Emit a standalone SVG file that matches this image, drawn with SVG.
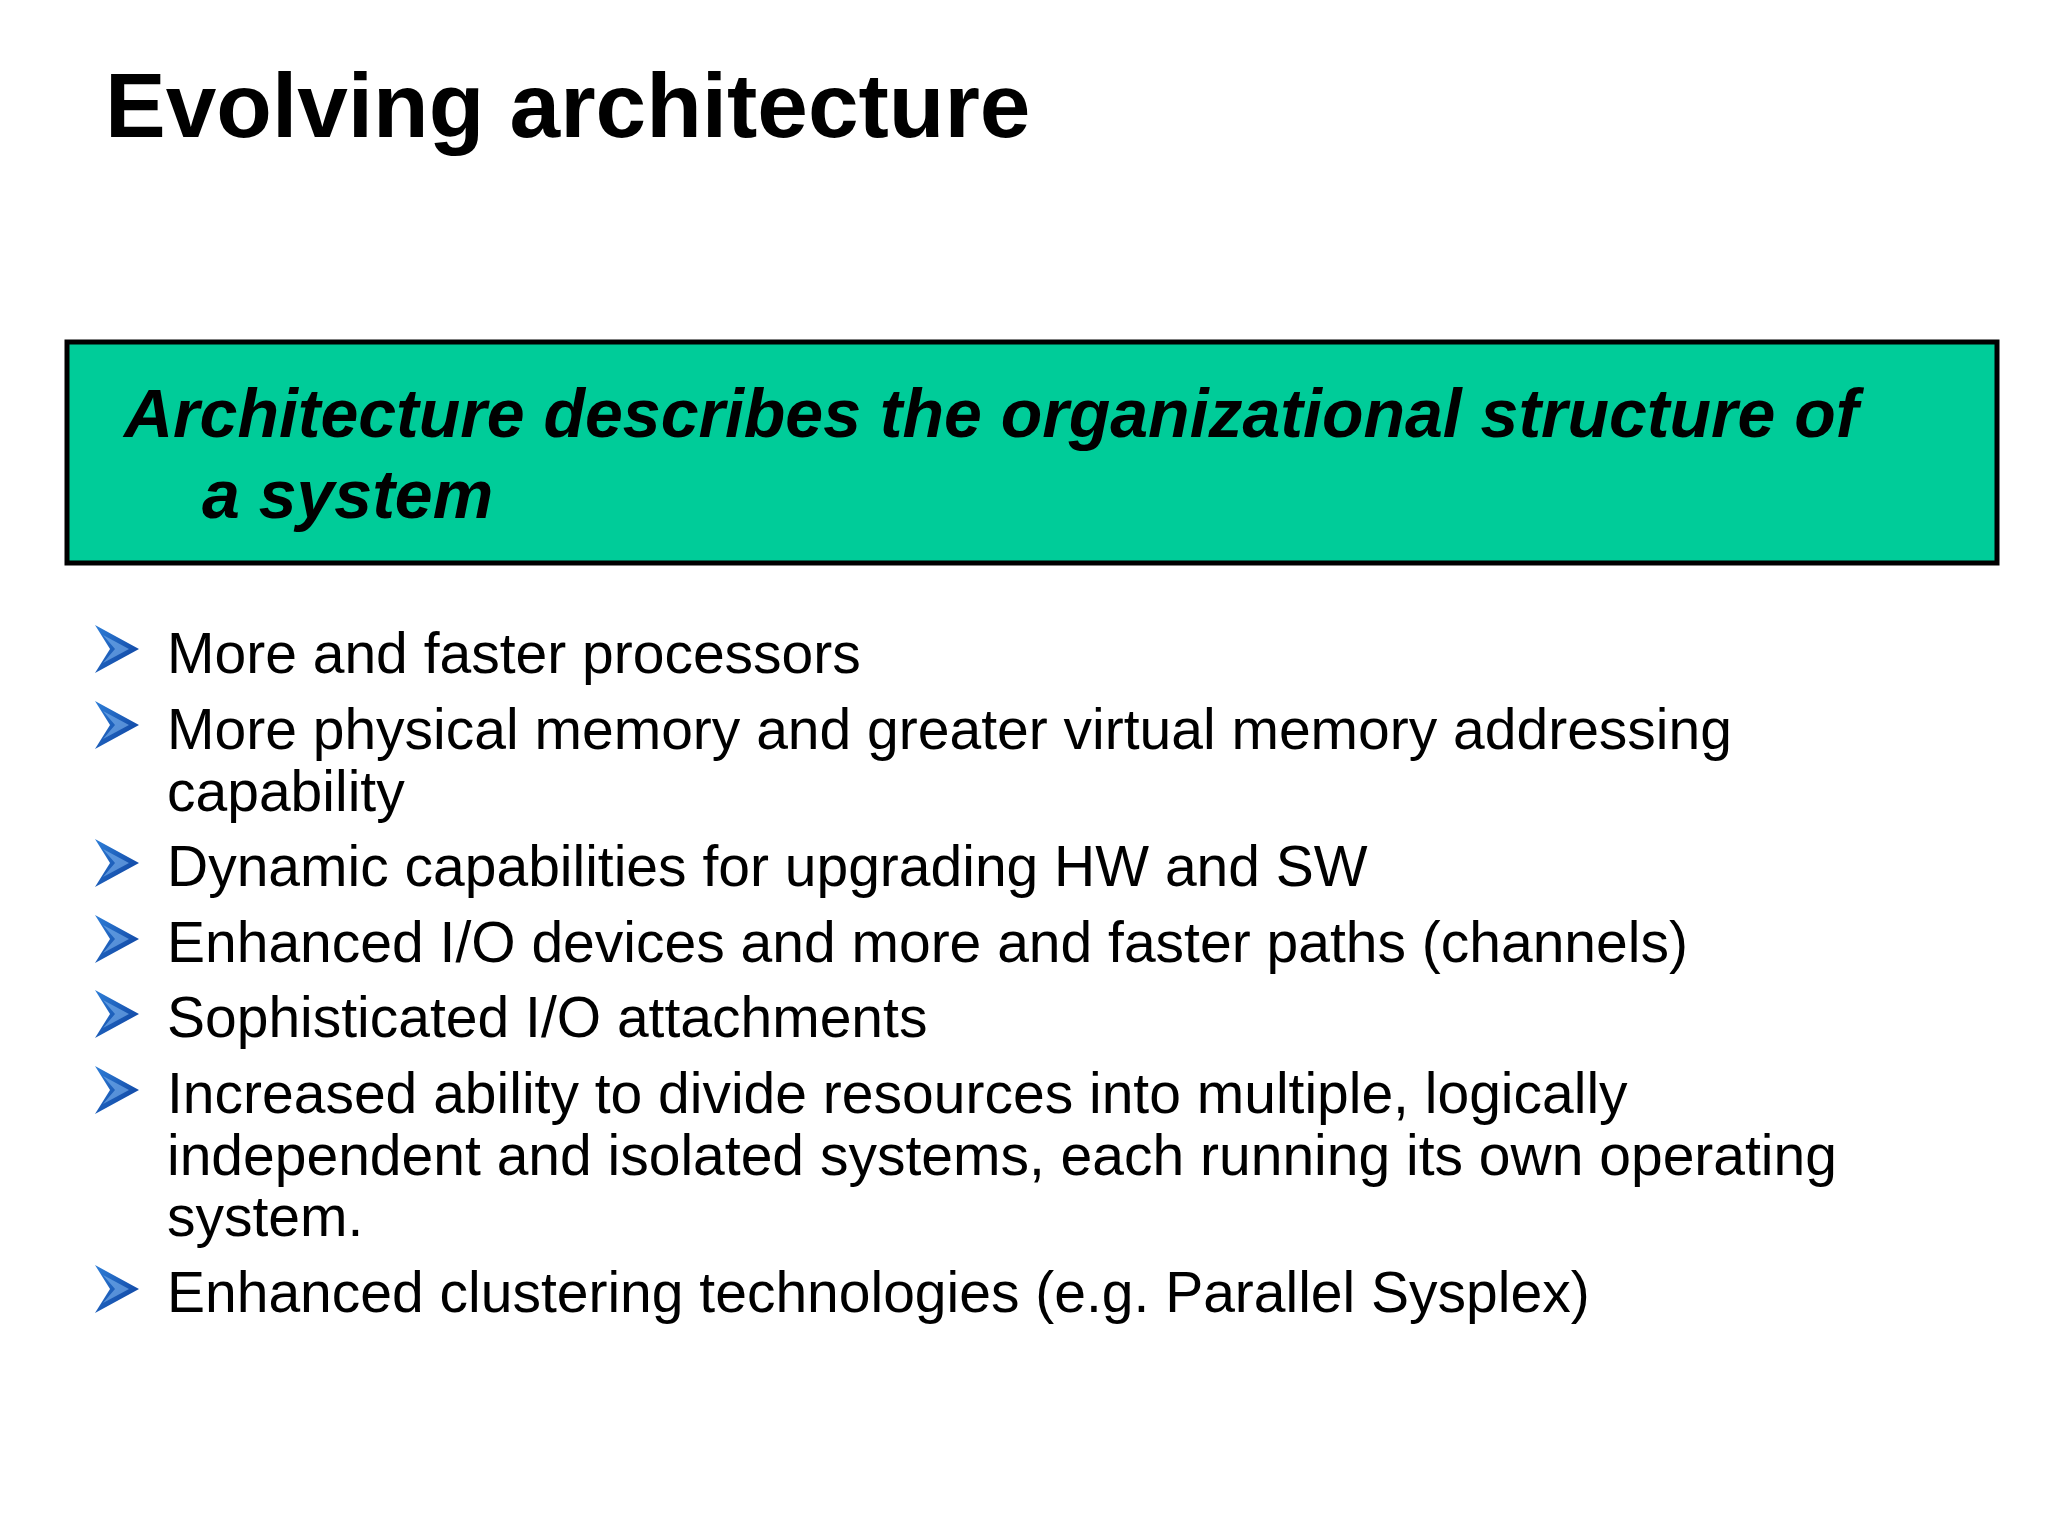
<svg xmlns="http://www.w3.org/2000/svg" width="2048" height="1536" viewBox="0 0 2048 1536">
<style>
.t{font-family:"Liberation Sans",Arial,sans-serif;fill:#000}
.b{font-size:57px}
</style>
<defs>
<linearGradient id="g" x1="0" y1="0" x2="1" y2="1"><stop offset="0" stop-color="#2f7fd8"/><stop offset="1" stop-color="#0a3c9a"/></linearGradient>
<g id="arr">
<path d="M-22,-24 L22,0 L-22,24 L-7,0 Z" fill="url(#g)"/>
<path d="M-14,-14 L-2,0 L-14,14 L12,0 Z" fill="#7fb4ee" opacity="0.6"/>
</g>
</defs>
<rect width="2048" height="1536" fill="#fff"/>
<text class="t" x="105" y="137" font-size="91" font-weight="bold">Evolving architecture</text>
<g id="box">
<rect x="67" y="342" width="1930" height="221" fill="#00CC99" stroke="#000" stroke-width="5"/>
<text class="t" x="124" y="437" font-size="68" font-weight="bold" font-style="italic">Architecture describes the organizational structure of</text>
<text class="t" x="202" y="518" font-size="68" font-weight="bold" font-style="italic">a system</text>
</g>
<g id="bullets">
<use href="#arr" x="117" y="649"/>
<use href="#arr" x="117" y="725"/>
<use href="#arr" x="117" y="863"/>
<use href="#arr" x="117" y="939"/>
<use href="#arr" x="117" y="1014"/>
<use href="#arr" x="117" y="1090"/>
<use href="#arr" x="117" y="1289"/>
<text class="t b" x="167" y="673">More and faster processors</text>
<text class="t b" x="167" y="749">More physical memory and greater virtual memory addressing</text>
<text class="t b" x="167" y="811">capability</text>
<text class="t b" x="167" y="886">Dynamic capabilities for upgrading HW and SW</text>
<text class="t b" x="167" y="962">Enhanced I/O devices and more and faster paths (channels)</text>
<text class="t b" x="167" y="1037">Sophisticated I/O attachments</text>
<text class="t b" x="167" y="1113">Increased ability to divide resources into multiple, logically</text>
<text class="t b" x="167" y="1175">independent and isolated systems, each running its own operating</text>
<text class="t b" x="167" y="1236">system.</text>
<text class="t b" x="167" y="1312">Enhanced clustering technologies (e.g. Parallel Sysplex)</text>
</g>
</svg>
